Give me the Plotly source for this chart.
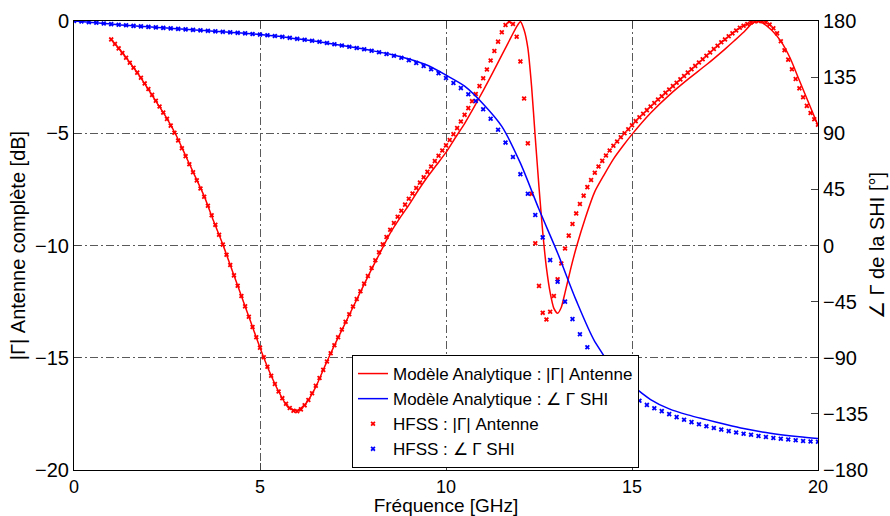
import plotly.graph_objects as go

# ---- Analytic model : |Gamma| antenna (dB, left axis)
freq_line_r = [1.0, 1.25, 1.5, 1.75, 2.0, 2.25, 2.5, 2.75, 3.0, 3.25, 3.5, 3.75, 4.0, 4.25, 4.5, 4.75,
               5.0, 5.25, 5.5, 5.75, 6.0, 6.25, 6.5, 6.75, 7.0, 7.25, 7.5, 7.75, 8.0, 8.25, 8.5, 8.75,
               9.0, 9.25, 9.5, 9.75, 10.0, 10.25, 10.5, 10.75, 11.0, 11.25, 11.5, 11.75, 11.9, 12.0,
               12.1, 12.2, 12.3, 12.4, 12.5, 12.6, 12.7, 12.8, 12.9, 13.0, 13.1, 13.2, 13.35, 13.5,
               13.75, 14.0, 14.25, 14.5, 14.75, 15.0, 15.5, 16.0, 16.5, 17.0, 17.5, 17.75, 18.0, 18.2,
               18.35, 18.5, 18.75, 19.0, 19.25, 19.5, 19.75, 20.0]
gamma_line_db = [-0.82, -1.3, -1.85, -2.42, -3.05, -3.7, -4.35, -5.1, -6.0, -6.9, -7.8, -8.9, -9.95, -11.1,
                 -12.25, -13.4, -14.55, -15.6, -16.5, -17.2, -17.35, -17.0, -16.3, -15.35, -14.45, -13.6,
                 -12.75, -11.9, -11.05, -10.25, -9.45, -8.8, -8.2, -7.55, -6.95, -6.4, -5.85, -5.2, -4.57,
                 -3.85, -3.1, -2.32, -1.52, -0.72, -0.25, -0.03, -0.4, -1.2, -2.9, -5.2, -7.4, -9.4, -11.0,
                 -12.1, -12.8, -13.02, -12.75, -12.1, -11.05, -10.1, -8.75, -7.6, -6.85, -6.15, -5.58, -5.05,
                 -4.1, -3.3, -2.6, -1.95, -1.25, -0.88, -0.5, -0.15, 0.0, -0.08, -0.4, -0.9, -1.65, -2.65,
                 -3.65, -4.65]

# ---- Analytic model : phase of Gamma SHI (deg, right axis)
freq_line_b = [0.0, 0.5, 1.0, 1.5, 2.0, 2.5, 3.0, 3.5, 4.0, 4.5, 5.0, 5.5, 6.0, 6.5, 7.0, 7.5, 8.0, 8.5,
               9.0, 9.5, 10.0, 10.5, 11.0, 11.5, 12.0, 12.5, 13.0, 13.5, 14.0, 14.5, 15.0, 15.5, 16.0,
               16.5, 17.0, 17.5, 18.0, 18.5, 19.0, 19.5, 20.0]
phase_line_deg = [180.0, 178.8, 177.5, 176.3, 175.3, 174.3, 173.3, 172.3, 171.3, 170.3, 169.2, 167.7,
                  165.7, 163.7, 161.4, 159.0, 156.3, 153.3, 149.5, 144.5, 136.6, 127.8, 113.5, 95.5,
                  66.0, 29.0, -6.0, -44.0, -77.0, -98.0, -112.0, -123.5, -131.0, -135.8, -139.6, -143.3,
                  -146.8, -149.6, -151.7, -153.4, -154.8]

# ---- HFSS : |Gamma| antenna (dB), 1 .. 20 GHz, 0.1 GHz sweep
freq_hfss_r = [round(1.0 + 0.1 * i, 1) for i in range(191)]
gamma_hfss_db = [
    -0.82, -1.02, -1.22, -1.43, -1.64, -1.86, -2.08, -2.3, -2.53, -2.78,
    -3.03, -3.29, -3.55, -3.81, -4.08, -4.36, -4.66, -4.98, -5.32, -5.67,
    -6.02, -6.38, -6.74, -7.1, -7.46, -7.83, -8.23, -8.65, -9.08, -9.52,
    -9.96, -10.41, -10.87, -11.33, -11.79, -12.25, -12.71, -13.17, -13.63, -14.09,
    -14.55, -14.98, -15.4, -15.8, -16.17, -16.5, -16.8, -17.05, -17.24, -17.36,
    -17.38, -17.3, -17.12, -16.88, -16.58, -16.25, -15.9, -15.54, -15.17, -14.8,
    -14.44, -14.09, -13.74, -13.4, -13.06, -12.72, -12.38, -12.04, -11.7, -11.36,
    -11.0, -10.66, -10.3, -9.95, -9.62, -9.3, -9.0, -8.72, -8.45, -8.18,
    -7.92, -7.68, -7.44, -7.2, -6.96, -6.72, -6.48, -6.24, -6.0, -5.77,
    -5.54, -5.3, -5.04, -4.77, -4.48, -4.18, -3.88, -3.57, -3.25, -2.9,
    -2.55, -2.16, -1.76, -1.34, -0.92, -0.5, -0.18, -0.02, -0.13, -0.7,
    -1.8, -3.45, -5.45, -7.7, -9.9, -11.8, -13.0, -13.3, -12.95, -12.25,
    -11.5, -10.8, -10.13, -9.56, -9.04, -8.57, -8.15, -7.78, -7.4, -7.08,
    -6.76, -6.48, -6.23, -5.99, -5.77, -5.56, -5.37, -5.18, -5.0, -4.82,
    -4.64, -4.46, -4.29, -4.13, -3.97, -3.81, -3.65, -3.5, -3.35, -3.2,
    -3.05, -2.9, -2.75, -2.6, -2.45, -2.3, -2.15, -2.0, -1.85, -1.7,
    -1.55, -1.4, -1.25, -1.1, -0.95, -0.82, -0.68, -0.55, -0.42, -0.3,
    -0.21, -0.13, -0.06, -0.02, 0.0, -0.01, -0.06, -0.16, -0.32, -0.55,
    -0.9, -1.3, -1.72, -2.15, -2.58, -3.0, -3.4, -3.78, -4.1, -4.38,
    -4.62]

# ---- HFSS : phase of Gamma SHI (deg), 0 .. 20 GHz, 0.2 GHz sweep
freq_hfss_b = [round(0.2 * i, 1) for i in range(101)]
phase_hfss_deg = [
    180.0, 179.6, 179.1, 178.6, 178.0, 177.5, 177.0, 176.6, 176.1, 175.7,
    175.3, 174.9, 174.5, 174.1, 173.7, 173.3, 172.9, 172.5, 172.1, 171.7,
    171.3, 170.9, 170.5, 170.1, 169.6, 169.1, 168.6, 168.0, 167.3, 166.5,
    165.7, 164.9, 164.1, 163.3, 162.4, 161.4, 160.4, 159.4, 158.4, 157.3,
    156.1, 154.9, 153.6, 152.1, 150.5, 148.6, 146.4, 144.0, 141.3, 138.2,
    134.3, 130.3, 126.2, 121.3, 115.8, 109.2, 101.6, 92.8, 82.5, 71.0,
    57.2, 41.5, 24.4, 6.5, -11.7, -29.0, -45.0, -59.0, -71.2, -81.6,
    -90.8, -98.5, -105.0, -111.0, -116.0, -120.5, -124.5, -127.8, -130.5, -132.8,
    -135.2, -137.6, -139.7, -141.6, -143.3, -144.9, -146.3, -147.6, -148.8, -149.9,
    -150.9, -151.8, -152.7, -153.5, -154.3, -155.0, -155.6, -156.2, -156.7, -157.1,
    -157.4]

assert len(freq_line_r) == len(gamma_line_db)
assert len(freq_line_b) == len(phase_line_deg)
assert len(freq_hfss_r) == len(gamma_hfss_db)
assert len(freq_hfss_b) == len(phase_hfss_deg)

x_ticks = [0, 5, 10, 15, 20]
y_ticks = [-20, -15, -10, -5, 0]
y2_ticks = [-180, -135, -90, -45, 0, 45, 90, 135, 180]

RED = "#ff0000"
BLUE = "#0000ff"
FONT = "Liberation Sans, Arial, Helvetica, sans-serif"
GRID = "#5a5a5a"
DASH = "8px,3px,2px,3px"

fig = go.Figure()
fig.add_trace(go.Scatter(x=freq_line_r, y=gamma_line_db, mode="lines",
                         line=dict(color=RED, width=1.5, shape="spline", smoothing=0.6),
                         name="Modèle Analytique : |Γ| Antenne", yaxis="y"))
fig.add_trace(go.Scatter(x=freq_line_b, y=phase_line_deg, mode="lines",
                         line=dict(color=BLUE, width=1.5, shape="spline", smoothing=0.8),
                         name="Modèle Analytique : ∠ Γ SHI", yaxis="y2"))
fig.add_trace(go.Scatter(x=freq_hfss_r, y=gamma_hfss_db, mode="markers",
                         marker=dict(symbol="x", size=4.5, color=RED),
                         name="HFSS : |Γ| Antenne", yaxis="y"))
fig.add_trace(go.Scatter(x=freq_hfss_b, y=phase_hfss_deg, mode="markers",
                         marker=dict(symbol="x", size=4.5, color=BLUE),
                         name="HFSS : ∠ Γ SHI", yaxis="y2"))

fig.update_layout(
    width=890, height=516,
    margin=dict(l=74, r=72, t=21, b=46, autoexpand=False),
    paper_bgcolor="white", plot_bgcolor="white",
    font=dict(family=FONT, size=20, color="black"),
    showlegend=True,
    legend=dict(x=(352 - 74) / 744, y=(470 - 468) / 449, xanchor="left", yanchor="bottom",
                bgcolor="white", bordercolor="black", borderwidth=1,
                font=dict(family=FONT, size=17, color="black"),
                itemwidth=30, tracegroupgap=0),
    xaxis=dict(range=[0, 20], tickvals=x_ticks, ticks="inside", ticklen=7,
               tickfont=dict(size=18),
               showline=True, linecolor="black", linewidth=1, mirror="ticks",
               showgrid=True, gridcolor=GRID, griddash=DASH, gridwidth=1,
               zeroline=False, automargin=False,
               title=dict(text="Fréquence [GHz]", standoff=0, font=dict(size=19))),
    yaxis=dict(range=[-20, 0], tickvals=y_ticks, ticks="inside", ticklen=7,
               showline=True, linecolor="black", linewidth=1, mirror=True,
               showgrid=True, gridcolor=GRID, griddash=DASH, gridwidth=1,
               zeroline=False, automargin=False,
               title=dict(text="|Γ| Antenne complète [dB]", standoff=4, font=dict(size=20))),
    yaxis2=dict(range=[-180, 180], tickvals=y2_ticks, ticks="inside", ticklen=7,
                overlaying="y", side="right", showline=True, linecolor="black", linewidth=1,
                showgrid=False, zeroline=False, automargin=False,
                title=dict(text="∠ Γ de la SHI [°]", standoff=2, font=dict(size=20))),
)

fig.write_html("out.html", config={"displayModeBar": False},
               post_script="document.body.style.margin='0';document.body.style.padding='0';")
